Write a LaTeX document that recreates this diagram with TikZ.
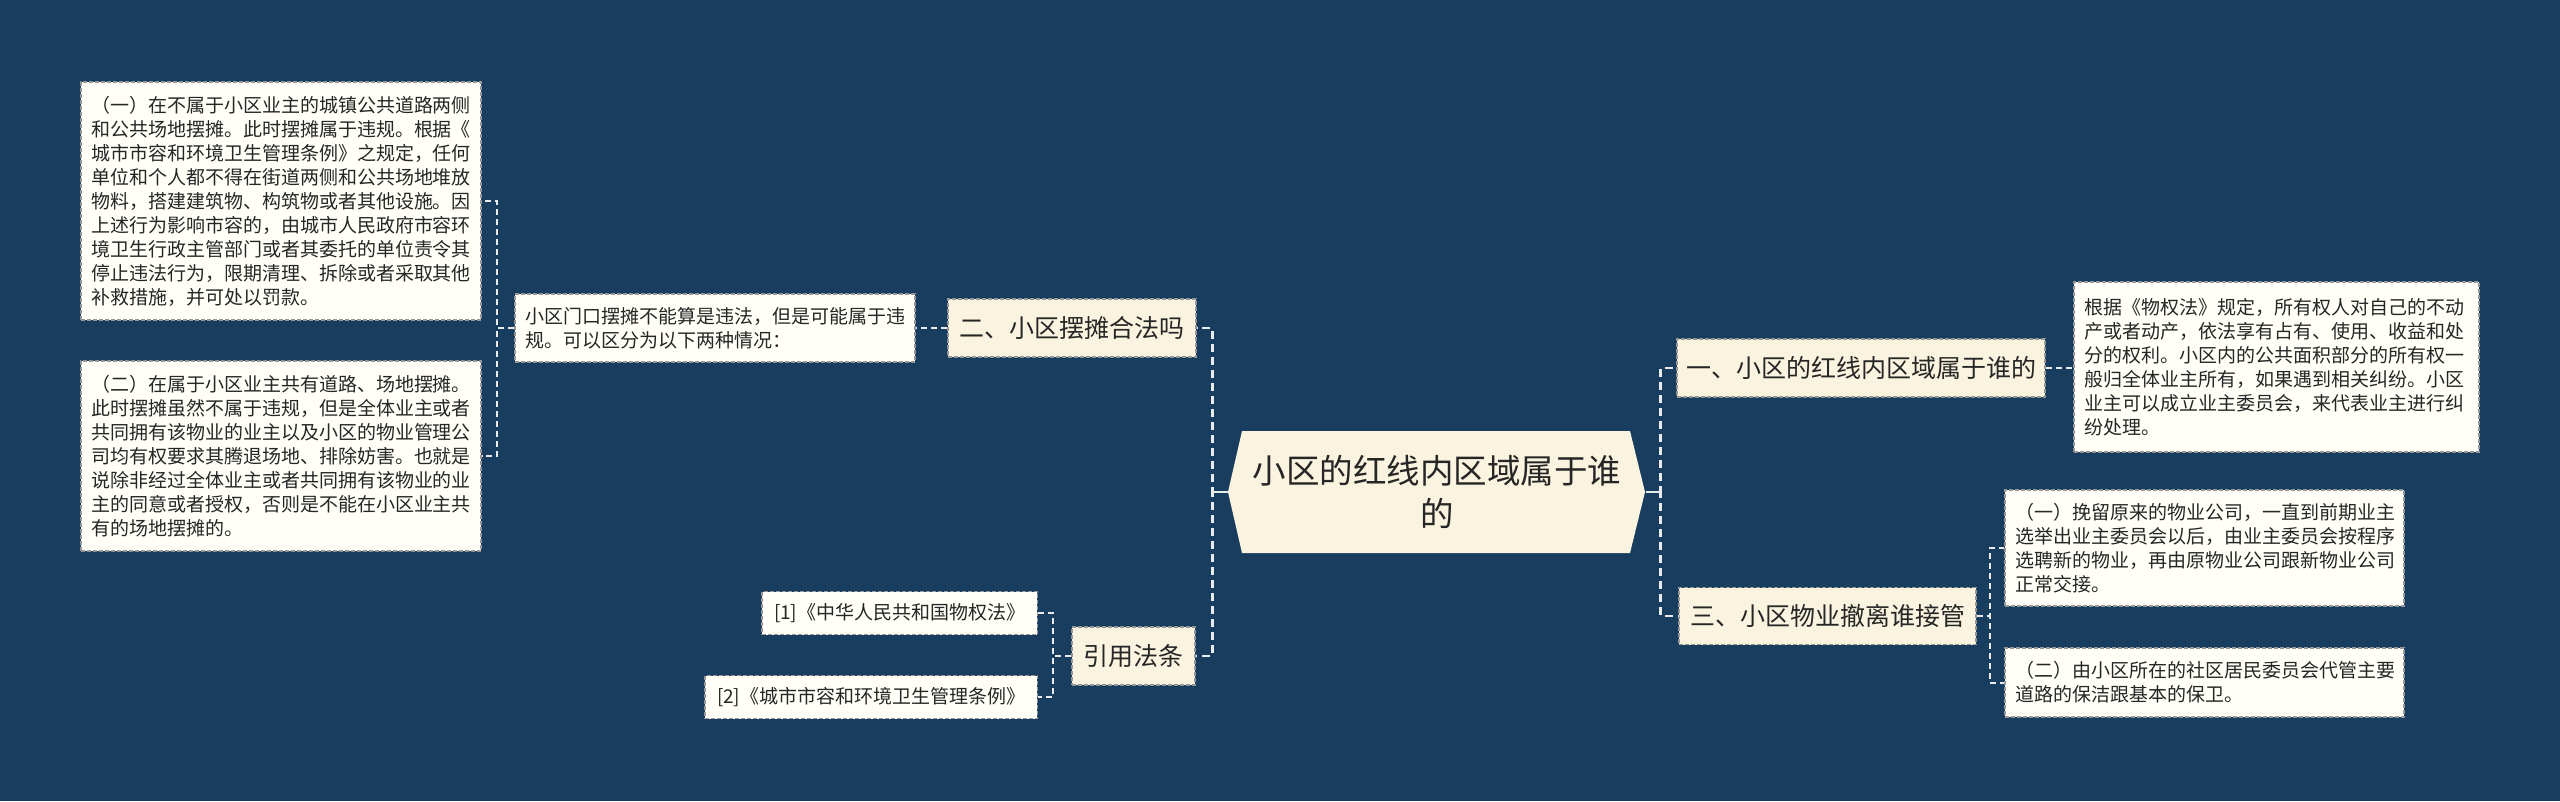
\documentclass[tikz,border=0pt]{standalone}
\usepackage{fontspec}
\setmainfont{Noto Sans CJK SC}
\definecolor{bgcol}{RGB}{24,61,94}
\definecolor{cream}{RGB}{249,243,223}
\definecolor{leafcol}{RGB}{255,254,247}
\definecolor{bordercol}{RGB}{150,150,150}
\definecolor{conncol}{RGB}{232,234,236}
\definecolor{txtcol}{RGB}{38,38,38}
\tikzset{
  conn/.style={draw=conncol, line width=2.8pt, dash pattern=on 8pt off 5pt},
  subconn/.style={draw=conncol, line width=2pt, dash pattern=on 6pt off 4pt},
  topic/.style={fill=cream, draw=bordercol, line width=1.2pt, dash pattern=on 4pt off 2pt,
    font=\fontsize{25}{30}\selectfont, text=txtcol, inner sep=0pt, minimum height=58pt},
  leaf/.style={fill=leafcol, draw=bordercol, line width=1.2pt, dash pattern=on 4pt off 2pt,
    font=\fontsize{19}{24}\selectfont, text=txtcol, align=left, inner xsep=10pt, inner ysep=0pt},
  cite/.style={fill=leafcol, draw=bordercol, line width=1.2pt, dash pattern=on 4pt off 2pt,
    font=\fontsize{19}{24}\selectfont, text=txtcol, inner xsep=12pt, inner ysep=0pt, minimum height=43pt, anchor=east},
  tick/.style={draw=conncol, line width=2.8pt},
}
\begin{document}
\begin{tikzpicture}[x=1pt,y=-1pt]
\useasboundingbox (0,0) rectangle (2560,801);
\fill[bgcol] (0,0) rectangle (2560,801);

% central hexagon
\fill[cream] (1242,431) -- (1630,431) -- (1645,492) -- (1630,553) -- (1242,553) -- (1228,492) -- cycle;
\node[font=\fontsize{33.5}{43}\selectfont, text=txtcol, align=center, minimum width=417pt, minimum height=122pt, inner sep=0pt] (c) at (1437,492) {小区的红线内区域属于谁\\的};

% level-1 topics
\node[topic, minimum width=248pt] (b2) at (1072,328) {二、小区摆摊合法吗};
\node[topic, minimum width=123pt] (b4) at (1133.5,656) {引用法条};
\node[topic, minimum width=368pt] (b1) at (1861,368) {一、小区的红线内区域属于谁的};
\node[topic, minimum width=297pt, minimum height=57pt] (b3) at (1827.5,616) {三、小区物业撤离谁接管};

% leaves left
\node[leaf, text width=380pt, minimum height=68pt] (l0) at (715,328) {小区门口摆摊不能算是违法，但是可能属于违\\规。可以区分为以下两种情况：};
\node[leaf, text width=380pt, minimum height=238pt] (l1) at (281,201) {（一）在不属于小区业主的城镇公共道路两侧\\和公共场地摆摊。此时摆摊属于违规。根据《\\城市市容和环境卫生管理条例》之规定，任何\\单位和个人都不得在街道两侧和公共场地堆放\\物料，搭建建筑物、构筑物或者其他设施。因\\上述行为影响市容的，由城市人民政府市容环\\境卫生行政主管部门或者其委托的单位责令其\\停止违法行为，限期清理、拆除或者采取其他\\补救措施，并可处以罚款。};
\node[leaf, text width=380pt, minimum height=190pt] (l2) at (281,456) {（二）在属于小区业主共有道路、场地摆摊。\\此时摆摊虽然不属于违规，但是全体业主或者\\共同拥有该物业的业主以及小区的物业管理公\\司均有权要求其腾退场地、排除妨害。也就是\\说除非经过全体业主或者共同拥有该物业的业\\主的同意或者授权，否则是不能在小区业主共\\有的场地摆摊的。};

% citations
\node[cite] (k1) at (1038,613) {[1]《中华人民共和国物权法》};
\node[cite] (k2) at (1038,697) {[2]《城市市容和环境卫生管理条例》};

% leaves right
\node[leaf, text width=385pt, minimum height=170pt] (r0) at (2276.5,367) {根据《物权法》规定，所有权人对自己的不动\\产或者动产，依法享有占有、使用、收益和处\\分的权利。小区内的公共面积部分的所有权一\\般归全体业主所有，如果遇到相关纠纷。小区\\业主可以成立业主委员会，来代表业主进行纠\\纷处理。};
\node[leaf, text width=379pt, minimum height=116pt] (r1) at (2204.5,548) {（一）挽留原来的物业公司，一直到前期业主\\选举出业主委员会以后，由业主委员会按程序\\选聘新的物业，再由原物业公司跟新物业公司\\正常交接。};
\node[leaf, text width=379pt, minimum height=69pt] (r2) at (2204.5,682.5) {（二）由小区所在的社区居民委员会代管主要\\道路的保洁跟基本的保卫。};

% main connectors
\draw[conn] (c.west) -- ++(-16,0) |- (b2.east);
\draw[conn] (c.west) -- ++(-16,0) |- (b4.east);
\draw[conn] (c.east) -- ++(15,0) |- (b1.west);
\draw[conn] (c.east) -- ++(15,0) |- (b3.west);
\draw[tick] (c.west) -- ++(-16,0);
\draw[tick] (c.east) -- ++(15,0);

% sub connectors
\draw[subconn] (b2.west) -- (l0.east);
\draw[subconn] (l0.west) -- ++(-17,0) |- (l1.east);
\draw[subconn] (l0.west) -- ++(-17,0) |- (l2.east);
\draw[subconn] (b4.west) -- ++(-18,0) |- (k1.east);
\draw[subconn] (b4.west) -- ++(-18,0) |- (k2.east);
\draw[subconn] (b1.east) -- (r0.west |- b1.east);
\draw[subconn] (b3.east) -- ++(13,0) |- (r1.west);
\draw[subconn] (b3.east) -- ++(13,0) |- (r2.west);
\end{tikzpicture}
\end{document}
